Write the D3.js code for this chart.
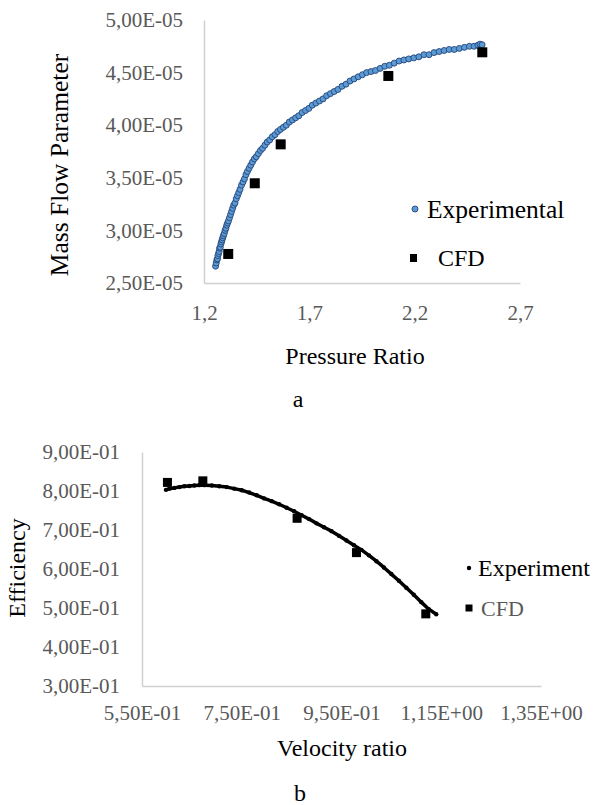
<!DOCTYPE html>
<meta charset="utf-8">
<style>
  body { margin: 0; background: #fff; }
  svg { display: block; font-family: "Liberation Serif", "Times New Roman", serif; }
  .axis path { stroke: #d0d0d0; stroke-width: 1.5; }
  .axis text { fill: #595959; font-size: 21px; font-family: "Liberation Serif", serif; }
  .title { font-size: 24px; fill: #000; }
</style>
<script src="https://d3js.org/d3.v7.min.js"></script>
<body>
<svg id="fig" width="598" height="805"></svg>
<script>
// ---- chart a: mass flow parameter vs pressure ratio ----
var expPR = [1.255,1.258,1.261,1.264,1.266,1.269,1.272,1.274,1.277,1.280,1.283,1.286,1.289,1.292,1.296,
  1.300,1.304,1.308,1.312,1.316,1.321,1.326,1.331,1.336,1.341,1.347,1.353,1.359,1.365,1.371,1.378,1.385,
  1.392,1.399,1.406,1.414,1.422,1.430,1.439,1.448,1.458,1.468,1.478,1.489,1.500,1.512,1.524,1.537,1.550,
  1.563,1.577,1.591,1.605,1.620,1.635,1.650,1.666,1.682,1.698,1.714,1.731,1.748,1.765,1.782,1.800,1.818,
  1.836,1.855,1.874,1.893,1.912,1.932,1.952,1.972,1.993,2.014,2.036,2.058,2.080,2.103,2.126,2.149,2.172,
  2.196,2.220,2.244,2.268,2.292,2.316,2.340,2.364,2.388,2.412,2.436,2.460,2.482,2.500,2.510,2.520];
var expMFP = [2.66,2.69,2.72,2.73,2.76,2.78,2.80,2.83,2.84,2.87,2.89,2.91,2.93,2.95,2.97,
  3.00,3.02,3.05,3.07,3.09,3.12,3.15,3.18,3.21,3.24,3.26,3.30,3.33,3.36,3.39,3.43,3.46,
  3.49,3.53,3.56,3.59,3.62,3.65,3.68,3.70,3.73,3.76,3.78,3.81,3.84,3.86,3.89,3.91,3.94,
  3.96,3.98,4.00,4.03,4.05,4.07,4.09,4.12,4.14,4.16,4.19,4.21,4.23,4.25,4.28,4.30,4.32,
  4.34,4.37,4.39,4.42,4.44,4.46,4.48,4.50,4.51,4.52,4.54,4.56,4.57,4.59,4.61,4.62,4.63,
  4.64,4.65,4.67,4.67,4.69,4.70,4.71,4.72,4.72,4.73,4.74,4.75,4.75,4.76,4.77,4.765]; // x1e-5
var cfdPR = [1.315, 1.441, 1.564, 2.075, 2.521];
var cfdMFP = [2.776, 3.448, 3.818, 4.468, 4.693]; // x1e-5

var aXTicks = [1.2, 1.7, 2.2, 2.7];
var aXLabels = ["1,2", "1,7", "2,2", "2,7"];
var aYTicks = [2.5e-5, 3.0e-5, 3.5e-5, 4.0e-5, 4.5e-5, 5.0e-5];
var aYLabels = ["2,50E-05", "3,00E-05", "3,50E-05", "4,00E-05", "4,50E-05", "5,00E-05"];

// ---- chart b: efficiency vs velocity ratio ----
var expVR = [0.598,0.605,0.615,0.625,0.635,0.645,0.655,0.665,0.675,0.690,0.705,0.720,0.735,0.750,
  0.765,0.780,0.795,0.810,0.825,0.840,0.855,0.870,0.885,0.900,0.915,0.930,0.945,0.960,0.975,0.990,
  1.005,1.020,1.035,1.050,1.065,1.080,1.095,1.110,1.125,1.140];
var expEff = [0.803,0.806,0.808,0.810,0.812,0.813,0.814,0.815,0.815,0.814,0.812,0.810,0.806,0.802,
  0.796,0.789,0.781,0.774,0.766,0.757,0.748,0.738,0.728,0.717,0.707,0.697,0.685,0.673,0.661,0.649,
  0.635,0.620,0.604,0.587,0.570,0.552,0.534,0.515,0.497,0.484];
var cfdVR = [0.601, 0.672, 0.861, 0.980, 1.119];
var cfdEff = [0.822, 0.826, 0.730, 0.642, 0.485];

var bXTicks = [0.55, 0.75, 0.95, 1.15, 1.35];
var bXLabels = ["5,50E-01", "7,50E-01", "9,50E-01", "1,15E+00", "1,35E+00"];
var bYTicks = [0.3, 0.4, 0.5, 0.6, 0.7, 0.8, 0.9];
var bYLabels = ["3,00E-01", "4,00E-01", "5,00E-01", "6,00E-01", "7,00E-01", "8,00E-01", "9,00E-01"];

var svg = d3.select("#fig");

function axes(x, y, xt, xl, yt, yl, xLabelOff, yPad) {
  var gx = svg.append("g").attr("class", "axis")
    .attr("transform", "translate(0," + y.range()[0] + ")")
    .call(d3.axisBottom(x).tickValues(xt).tickSize(0).tickFormat(function(d, i) { return xl[i]; }));
  gx.selectAll("text").attr("y", xLabelOff).attr("dy", "0.35em");
  svg.append("g").attr("class", "axis")
    .attr("transform", "translate(" + x.range()[0] + ",0)")
    .call(d3.axisLeft(y).tickValues(yt).tickSize(0).tickPadding(yPad).tickFormat(function(d, i) { return yl[i]; }));
  svg.selectAll(".axis line").remove();
}

function squares(x, y, xs, ys, size) {
  svg.append("g").selectAll("rect").data(xs).join("rect")
    .attr("x", function(d) { return x(d) - size / 2; })
    .attr("y", function(d, i) { return y(ys[i]) - size / 2; })
    .attr("width", size).attr("height", size).attr("fill", "#000");
}

// chart a
var xa = d3.scaleLinear().domain([1.2, 2.7]).range([204, 520]);
var ya = d3.scaleLinear().domain([2.5e-5, 5e-5]).range([283, 20]);
axes(xa, ya, aXTicks, aXLabels, aYTicks, aYLabels, 30, 21);

svg.append("g").selectAll("circle").data(expPR).join("circle")
  .attr("cx", function(d) { return xa(d); })
  .attr("cy", function(d, i) { return ya(expMFP[i] * 1e-5); })
  .attr("r", 3).attr("fill", "#5B9BD5").attr("stroke", "#264478").attr("stroke-width", 0.9);
squares(xa, ya, cfdPR, cfdMFP.map(function(v) { return v * 1e-5; }), 10);

svg.append("circle").attr("cx", 415).attr("cy", 209).attr("r", 3)
  .attr("fill", "#5B9BD5").attr("stroke", "#264478").attr("stroke-width", 0.9);
svg.append("text").attr("class", "title").attr("x", 427).attr("y", 209).attr("dy", "0.35em")
  .style("font-size", "25.5px").text("Experimental");
svg.append("rect").attr("x", 410).attr("y", 254).attr("width", 7).attr("height", 8).attr("fill", "#000");
svg.append("text").attr("class", "title").attr("x", 438).attr("y", 258).attr("dy", "0.35em").text("CFD");

svg.append("text").attr("class", "title").attr("text-anchor", "middle").style("font-size", "25.5px")
  .attr("transform", "translate(59,165) rotate(-90)").attr("dy", "0.35em").text("Mass Flow Parameter");
svg.append("text").attr("class", "title").attr("text-anchor", "middle")
  .attr("x", 355).attr("y", 356).attr("dy", "0.35em").text("Pressure Ratio");
svg.append("text").attr("class", "title").attr("text-anchor", "middle")
  .attr("x", 298).attr("y", 399).attr("dy", "0.35em").text("a");

// chart b
var xb = d3.scaleLinear().domain([0.55, 1.35]).range([142, 541]);
var yb = d3.scaleLinear().domain([0.3, 0.9]).range([686, 452]);
axes(xb, yb, bXTicks, bXLabels, bYTicks, bYLabels, 27, 22);

svg.append("path").datum(expVR)
  .attr("d", d3.line().x(function(d) { return xb(d); }).y(function(d, i) { return yb(expEff[i]); }))
  .attr("fill", "none").attr("stroke", "#000").attr("stroke-width", 3.5).attr("stroke-linejoin", "round");
svg.append("g").selectAll("circle").data(expVR).join("circle")
  .attr("cx", function(d) { return xb(d); })
  .attr("cy", function(d, i) { return yb(expEff[i]); })
  .attr("r", 2.2).attr("fill", "#000");
squares(xb, yb, cfdVR, cfdEff, 9);

svg.append("circle").attr("cx", 469).attr("cy", 568).attr("r", 2.2).attr("fill", "#000");
svg.append("text").attr("class", "title").attr("x", 478).attr("y", 568).attr("dy", "0.35em").text("Experiment");
svg.append("rect").attr("x", 465.5).attr("y", 604.5).attr("width", 7).attr("height", 7).attr("fill", "#000");
svg.append("text").attr("x", 481).attr("y", 608).attr("dy", "0.35em")
  .style("font-size", "22px").style("fill", "#595959").text("CFD");

svg.append("text").attr("class", "title").attr("text-anchor", "middle")
  .attr("transform", "translate(17,568) rotate(-90)").attr("dy", "0.35em").text("Efficiency");
svg.append("text").attr("class", "title").attr("text-anchor", "middle")
  .attr("x", 342).attr("y", 748).attr("dy", "0.35em").text("Velocity ratio");
svg.append("text").attr("class", "title").attr("text-anchor", "middle")
  .attr("x", 300).attr("y", 793).attr("dy", "0.35em").text("b");
</script>
</body>
